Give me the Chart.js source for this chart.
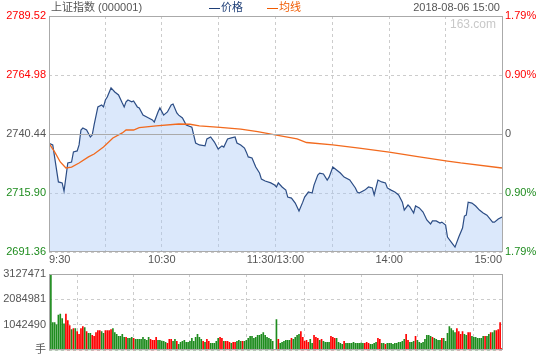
<!DOCTYPE html>
<html>
<head>
<meta charset="utf-8">
<script src="https://cdn.jsdelivr.net/npm/chart.js@4"></script>
<style>
  body { margin: 0; background: #fff; }
  #box { position: relative; width: 540px; height: 360px; font-family: 'Liberation Sans', 'Noto Sans CJK SC', sans-serif; font-size: 11px; }
  #box canvas { position: absolute; left: 0; }
  .txt { position: absolute; line-height: 12px; white-space: nowrap; }
  .leg { font-family: 'Noto Sans CJK SC', sans-serif; font-size: 11px; }
  .leg i { display: inline-block; width: 11px; height: 1px; background: currentColor; vertical-align: middle; margin-right: 1px; }
</style>
</head>
<body>
<div id="box">
  <canvas id="grafico" width="540" height="270" style="top:0"></canvas>
  <canvas id="volume" width="540" height="98" style="top:262px"></canvas>
  <div class="txt" style="left:51px;top:1px;color:#555">上证指数 (000001)</div>
  <div class="txt leg" style="left:209px;top:0px;color:#1f3f77"><i></i>价格</div>
  <div class="txt leg" style="left:267px;top:0px;color:#f05a00"><i></i>均线</div>
  <div class="txt" style="right:40px;top:1px;color:#555">2018-08-06 15:00</div>
  <div class="txt" style="right:44px;top:18px;color:#c8c8c8;font-size:12px">163.com</div>
</div>
<script>
// minute index 0..241 (9:30 .. 11:30 | 13:00 .. 15:00)
const xGrid = [0, 30, 60, 90, 120.5, 151, 181, 211, 241];
const xLabels = ['9:30', '', '10:30', '', '11:30/13:00', '', '14:00', '', '15:00'];

const prevClose = 2740.44;
const yTicks = [2691.36, 2715.90, 2740.44, 2764.98, 2789.52];
const pctLabels = ['1.79%', '0.90%', '0', '0.90%', '1.79%'];   // bottom -> top

const priceIdx = [0, 2, 5, 7, 8, 10, 12, 13, 15, 16, 17, 18, 20, 22, 23, 24, 26, 28, 29, 30,
  31, 33, 35, 37, 39, 40, 41, 42, 44, 45, 47, 48, 50, 52, 55, 56, 58, 59, 61, 63,
  65, 66, 68, 69, 71, 73, 76, 77, 78, 80, 83, 84, 86, 88, 90, 92, 93, 95, 97, 99,
  100, 102, 104, 105, 106, 108, 110, 112, 113, 115, 118, 120, 121, 122, 124, 126, 127, 129, 131, 133,
  135, 136, 138, 140, 141, 143, 144, 146, 148, 149, 151, 153, 155, 157, 160, 163, 164, 165, 168, 170,
  172, 173, 175, 177, 179, 180, 182, 184, 186, 188, 189, 191, 192, 194, 195, 197, 199, 201, 203, 204,
  206, 208, 209, 211, 212, 214, 216, 218, 220, 221, 222, 223, 225, 227, 229, 231, 233, 236, 237, 239, 241];
const priceValues = [2736.6, 2735.9, 2720.5, 2720.1, 2716.7, 2728.4, 2728.8, 2733.0, 2733.4, 2735.9, 2742.1, 2742.9, 2742.1, 2739.2, 2740.0, 2744.2, 2751.7, 2752.5, 2751.7, 2754.6,
  2755.8, 2759.6, 2757.9, 2756.7, 2753.3, 2751.7, 2753.8, 2754.6, 2753.8, 2754.2, 2751.7, 2751.3, 2748.3, 2747.5, 2746.3, 2745.4, 2749.6, 2751.3, 2748.3, 2749.6,
  2752.5, 2752.9, 2749.2, 2748.3, 2747.1, 2744.2, 2743.3, 2740.0, 2736.7, 2735.9, 2735.5, 2738.4, 2739.2, 2737.1, 2734.2, 2735.5, 2735.0, 2738.4, 2738.8, 2739.2,
  2736.7, 2735.9, 2734.6, 2732.9, 2730.9, 2730.5, 2726.7, 2724.2, 2721.7, 2720.9, 2720.1, 2719.2, 2718.4, 2720.1, 2718.4, 2717.1, 2714.2, 2713.8, 2711.7, 2708.4,
  2712.1, 2714.2, 2716.3, 2715.9, 2719.2, 2723.4, 2724.2, 2723.8, 2721.3, 2722.5, 2726.7, 2725.5, 2724.2, 2722.5, 2721.3, 2718.0, 2716.3, 2715.9, 2717.1, 2718.4,
  2718.0, 2715.1, 2721.3, 2720.5, 2720.1, 2718.0, 2717.1, 2716.3, 2715.1, 2712.1, 2708.8, 2710.9, 2710.1, 2707.6, 2710.5, 2709.7, 2708.0, 2704.7, 2703.0, 2704.3,
  2704.3, 2703.4, 2703.8, 2702.6, 2697.6, 2695.5, 2693.4, 2697.6, 2701.3, 2706.3, 2706.7, 2712.1, 2711.7, 2710.5, 2708.8, 2707.6, 2706.7, 2703.8, 2703.8, 2705.1, 2705.9];

const avgIdx = [0, 3, 6, 9, 12, 16, 21, 24, 29, 34, 39, 41, 45, 48, 57, 69, 75, 80, 91, 102,
  111, 121, 132, 137, 151, 165, 181, 197, 212, 219, 241];
const avgValues = [2736.6, 2733.0, 2728.8, 2726.3, 2726.7, 2728.4, 2730.9, 2732.1, 2735.0, 2738.8, 2740.9, 2742.1, 2742.1, 2743.1, 2743.8, 2744.6, 2744.5, 2743.8, 2743.2, 2742.5,
  2741.4, 2740.0, 2738.4, 2736.9, 2735.9, 2734.6, 2732.9, 2730.9, 2729.2, 2728.4, 2726.3];

const volMax = 3127471;
const volTicks = [0, 1042490, 2084981, 3127471];
const volumes = [911000, 3127471, 1142000, 1142000, 1047000, 1441000, 1482000, 1305000, 1088000, 1482000,
  1224000, 1020000, 857000, 897000, 897000, 775000, 653000, 897000, 979000, 938000,
  775000, 694000, 694000, 612000, 571000, 734000, 816000, 816000, 775000, 694000,
  816000, 816000, 816000, 857000, 897000, 734000, 653000, 571000, 571000, 653000,
  530000, 530000, 490000, 490000, 530000, 490000, 449000, 449000, 449000, 449000,
  530000, 449000, 408000, 530000, 449000, 408000, 408000, 530000, 408000, 408000,
  381000, 367000, 326000, 286000, 449000, 449000, 367000, 449000, 367000, 245000,
  326000, 367000, 408000, 326000, 326000, 367000, 490000, 367000, 530000, 653000,
  530000, 449000, 367000, 326000, 449000, 367000, 286000, 286000, 286000, 367000,
  490000, 530000, 490000, 367000, 367000, 367000, 326000, 286000, 326000, 326000,
  367000, 408000, 367000, 367000, 367000, 408000, 490000, 571000, 571000, 490000,
  530000, 612000, 612000, 653000, 734000, 612000, 530000, 490000, 449000, 367000,
  41000,
  1265000, 449000, 286000, 326000, 367000, 408000, 408000, 408000, 490000, 449000,
  530000, 612000, 653000, 775000, 530000, 367000, 408000, 326000, 449000, 286000,
  612000, 530000, 490000, 408000, 449000, 367000, 326000, 326000, 326000, 571000,
  530000, 490000, 490000, 326000, 286000, 245000, 367000, 286000, 286000, 286000,
  286000, 326000, 286000, 286000, 286000, 300000, 286000, 286000, 326000, 286000,
  245000, 245000, 286000, 326000, 490000, 449000, 286000, 286000, 245000, 286000,
  286000, 286000, 245000, 286000, 286000, 326000, 326000, 367000, 449000, 653000,
  408000, 326000, 326000, 367000, 571000, 408000, 326000, 286000, 326000, 449000,
  612000, 612000, 571000, 530000, 490000, 449000, 408000, 408000, 490000, 490000,
  367000, 694000, 979000, 897000, 816000, 734000, 897000, 775000, 653000, 775000,
  653000, 612000, 734000, 734000, 571000, 530000, 530000, 490000, 490000, 490000,
  571000, 571000, 571000, 653000, 734000, 734000, 816000, 816000, 857000, 1142000,
  82000];
// 1 = 上涨 (red), 0 = 下跌 (green)
const volUp = [0, 0, 0, 0, 0, 0, 0, 0, 0, 1, 1, 1, 0, 1, 0, 1, 1, 1, 1, 0,
  1, 0, 0, 1, 1, 1, 1, 1, 0, 0, 1, 1, 1, 1, 0, 0, 0, 0, 0, 0,
  0, 1, 0, 0, 0, 1, 0, 0, 0, 0, 0, 0, 0, 0, 1, 1, 1, 1, 0, 0,
  0, 0, 0, 1, 1, 1, 0, 0, 1, 0, 0, 0, 0, 0, 0, 0, 0, 0, 0, 0,
  0, 0, 1, 0, 1, 1, 0, 0, 0, 0, 0, 1, 1, 0, 1, 1, 1, 0, 1, 1,
  0, 0, 0, 1, 0, 0, 0, 0, 0, 0, 0, 0, 0, 0, 0, 0, 0, 0, 0, 0,
  1,
  0, 1, 0, 0, 0, 0, 0, 0, 1, 0, 0, 0, 0, 1, 1, 1, 1, 1, 0, 0,
  1, 1, 1, 0, 1, 0, 0, 0, 0, 1, 1, 1, 0, 0, 0, 0, 1, 0, 0, 0,
  0, 0, 0, 0, 0, 0, 0, 1, 1, 1, 0, 0, 0, 0, 1, 1, 0, 0, 1, 0,
  0, 0, 0, 0, 0, 0, 0, 0, 0, 1, 1, 0, 0, 0, 1, 0, 0, 0, 0, 0,
  0, 0, 0, 1, 0, 0, 0, 0, 1, 0, 0, 0, 0, 0, 0, 0, 1, 1, 1, 1,
  0, 0, 1, 1, 0, 0, 0, 0, 0, 0, 0, 1, 0, 0, 1, 0, 0, 1, 1, 1,
  1];

const RED = '#ff0000';
const GREEN = '#1e8c1e';
const GRAY = '#555555';
const FONT = { family: "'Liberation Sans', 'Noto Sans CJK SC', sans-serif", size: 11 };

// moldura cinza + linha do fechamento anterior
const frame = {
  id: 'frame',
  afterDatasetsDraw(chart, args, opts) {
    const { ctx, chartArea: a } = chart;
    ctx.save();
    ctx.strokeStyle = '#aaaaaa';
    ctx.lineWidth = 1;
    const l = Math.round(a.left) + 0.5, t = Math.round(a.top) + 0.5;
    const r = Math.round(a.right) + 0.5, b = Math.round(a.bottom) - 0.5;
    ctx.strokeRect(l, t, r - l, b - t);
    if (opts.mid !== undefined) {
      const y = Math.round(chart.scales.y.getPixelForValue(opts.mid)) + 0.5;
      ctx.beginPath();
      ctx.moveTo(l, y);
      ctx.lineTo(r, y);
      ctx.stroke();
    }
    ctx.restore();
  }
};

const xScale = (showLabels) => ({
  type: 'linear',
  min: 0,
  max: 241,
  offset: false,
  afterBuildTicks: s => { s.ticks = xGrid.map(v => ({ value: v })); },
  afterFit: s => { s.height = showLabels ? 18 : 0; },
  ticks: {
    display: showLabels,
    autoSkip: false,
    maxRotation: 0,
    align: 'inner',
    padding: 1,
    color: GRAY,
    font: FONT,
    callback: v => xLabels[xGrid.indexOf(v)]
  },
  grid: { color: '#cccccc', drawTicks: false },
  border: { display: false, dash: [3, 3] }
});

new Chart(document.getElementById('grafico').getContext('2d'), {
  type: 'line',
  data: {
    datasets: [
      {
        label: '均线',
        data: avgIdx.map((x, i) => ({ x: x, y: avgValues[i] })),
        borderColor: '#f26a1e',
        borderWidth: 1.3,
        pointRadius: 0,
        fill: false
      },
      {
        label: '价格',
        data: priceIdx.map((x, i) => ({ x: x, y: priceValues[i] })),
        borderColor: '#2c4d85',
        borderWidth: 1.2,
        pointRadius: 0,
        fill: 'start',
        backgroundColor: 'rgba(170, 200, 245, 0.42)'
      }
    ]
  },
  options: {
    responsive: false,
    animation: false,
    devicePixelRatio: 1,
    layout: { padding: { top: 16 } },
    scales: {
      x: xScale(true),
      y: {
        position: 'left',
        min: yTicks[0],
        max: yTicks[4],
        afterBuildTicks: s => { s.ticks = yTicks.map(v => ({ value: v })); },
        afterFit: s => { s.width = 49; },
        ticks: {
          padding: 3,
          font: FONT,
          color: c => c.index < 2 ? GREEN : (c.index === 2 ? GRAY : RED),
          callback: v => v.toFixed(2)
        },
        grid: { color: '#cccccc', drawTicks: false },
        border: { display: false, dash: [3, 3] }
      },
      yr: {
        position: 'right',
        min: yTicks[0],
        max: yTicks[4],
        afterBuildTicks: s => { s.ticks = yTicks.map(v => ({ value: v })); },
        afterFit: s => { s.width = 38; },
        ticks: {
          padding: 3,
          font: FONT,
          color: c => c.index < 2 ? GREEN : (c.index === 2 ? GRAY : RED),
          callback: (v, i) => pctLabels[i]
        },
        grid: { display: false, drawTicks: false },
        border: { display: false }
      }
    },
    plugins: {
      legend: { display: false },
      tooltip: { enabled: false },
      frame: { mid: prevClose }
    }
  },
  plugins: [frame]
});

new Chart(document.getElementById('volume').getContext('2d'), {
  type: 'bar',
  data: {
    datasets: [{
      label: '成交量',
      data: volumes.map((v, i) => ({ x: i, y: v })),
      backgroundColor: volUp.map(u => u ? RED : GREEN),
      barThickness: 1
    }]
  },
  options: {
    responsive: false,
    animation: false,
    devicePixelRatio: 1,
    layout: { padding: { top: 12, right: 38, bottom: 9 } },
    scales: {
      x: xScale(false),
      y: {
        min: 0,
        max: volMax,
        afterBuildTicks: s => { s.ticks = volTicks.map(v => ({ value: v })); },
        afterFit: s => { s.width = 49; },
        ticks: {
          padding: 3,
          font: FONT,
          color: GRAY,
          callback: (v, i) => i === 0 ? '手' : String(v)
        },
        grid: { color: '#cccccc', drawTicks: false },
        border: { display: false, dash: [3, 3] }
      }
    },
    plugins: {
      legend: { display: false },
      tooltip: { enabled: false },
      frame: {}
    }
  },
  plugins: [frame]
});
</script>
</body>
</html>
